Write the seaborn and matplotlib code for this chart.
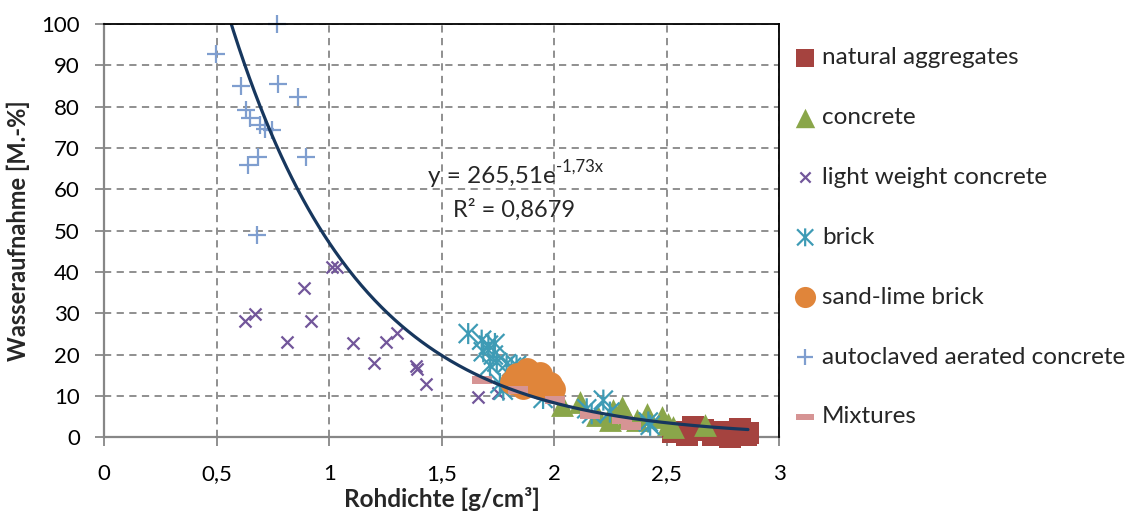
import numpy as np
import pandas as pd
import matplotlib
matplotlib.use("Agg")
import matplotlib.pyplot as plt
from matplotlib.path import Path
import seaborn as sns

# ---------------- data ----------------
nat_x = [2.530, 2.589, 2.663, 2.752, 2.826, 2.855, 2.781, 2.707, 2.619, 2.862]
nat_y = [1.3, 0.5, 1.7, 1.3, 2.1, 0.5, 0.1, 0.5, 2.5, 1.0]

con_x = [2.034, 2.115, 2.189, 2.264, 2.300, 2.368, 2.412, 2.478, 2.508, 2.530, 2.670, 2.248, 2.322]
con_y = [7.7, 8.5, 5.3, 6.5, 7.3, 4.1, 5.7, 4.9, 3.3, 2.5, 2.9, 4.1, 4.9]

lwc_x = [0.626, 0.670, 0.887, 0.917, 0.813, 1.011, 1.033, 1.104, 1.199, 1.252,
         1.300, 1.386, 1.392, 1.430, 1.663, 1.752]
lwc_y = [28.1, 29.8, 36.2, 28.1, 23.1, 41.2, 41.1, 22.7, 18.0, 23.1,
         25.3, 17.2, 16.6, 13.0, 9.8, 10.6]

brick_x = [1.618, 1.678, 1.708, 1.737, 1.685, 1.730, 1.745, 1.715, 1.789, 1.811,
           1.833, 1.759, 1.774, 1.951, 2.145, 2.219, 2.248, 2.167, 2.419, 2.427]
brick_y = [25.1, 23.5, 22.3, 22.7, 20.7, 19.9, 18.2, 17.4, 17.8, 17.0,
           17.4, 13.0, 11.4, 9.4, 6.9, 9.0, 6.1, 5.7, 3.7, 2.9]

slb_x = [1.833, 1.878, 1.937, 1.980, 1.863, 1.937, 1.996, 1.811]
slb_y = [15.0, 16.2, 15.4, 13.0, 12.2, 12.2, 11.8, 13.4]

aac_x = [0.766, 0.497, 0.608, 0.773, 0.862, 0.630, 0.648, 0.692, 0.714, 0.744,
         0.685, 0.640, 0.899, 0.680]
aac_y = [100.0, 92.7, 85.0, 85.4, 82.4, 79.3, 77.2, 75.5, 74.7, 74.3,
         67.9, 65.9, 67.9, 48.9]

mix_x = [1.678, 1.841, 2.003, 2.160, 2.300, 2.344]
mix_y = [13.8, 11.5, 9.1, 5.3, 4.1, 2.7]

fit_a = 265.51
fit_b = 1.73
fit_label_eq = "y = 265,51e"
fit_label_exp = "-1,73x"
fit_label_r2 = "R² = 0,8679"

x_ticks = [0, 0.5, 1, 1.5, 2, 2.5, 3]
x_ticklabels = ["0", "0,5", "1", "1,5", "2", "2,5", "3"]
y_ticks = [0, 10, 20, 30, 40, 50, 60, 70, 80, 90, 100]
y_ticklabels = [str(v) for v in y_ticks]

# ---------------- style ----------------
sns.set_theme(style="white")
plt.rcParams["font.family"] = ["Lato", "DejaVu Sans"]

W, H = 1133, 511
fig = plt.figure(figsize=(W / 100, H / 100), dpi=100)
ax = fig.add_axes([104.3 / W, 1 - 437.3 / H, (779 - 104.3) / W, (437.3 - 24) / H])

asterisk = Path([(0, -1), (0, 1), (-0.9, -0.9), (0.9, 0.9), (-0.9, 0.9), (0.9, -0.9)],
                [Path.MOVETO, Path.LINETO, Path.MOVETO, Path.LINETO, Path.MOVETO, Path.LINETO])
dash = Path([(-1, -0.35), (1, -0.35), (1, 0.35), (-1, 0.35), (-1, -0.35)],
            [Path.MOVETO, Path.LINETO, Path.LINETO, Path.LINETO, Path.CLOSEPOLY])

series = [
    ("natural aggregates", nat_x, nat_y, "s", 230, "#A5433F", dict(linewidth=0)),
    ("concrete", con_x, con_y, "^", 270, "#8AA64A", dict(linewidth=0)),
    ("light weight concrete", lwc_x, lwc_y, "x", 75, "#72569A", dict(linewidths=1.6)),
    ("brick", brick_x, brick_y, asterisk, 230, "#3E9BB5",
     dict(linewidths=1.6, facecolor="none", edgecolor="#3E9BB5")),
    ("sand-lime brick", slb_x, slb_y, "o", 320, "#E0853A", dict(linewidth=0)),
    ("autoclaved aerated concrete", aac_x, aac_y, "+", 180, "#7F9ECF", dict(linewidths=1.6)),
    ("Mixtures", mix_x, mix_y, dash, 210, "#D69494", dict(linewidth=0)),
]

for i, (lab, xs, ys, mk, sz, col, kw) in enumerate(series):
    df = pd.DataFrame({"x": xs, "y": ys})
    kw = dict(kw)
    if "edgecolor" not in kw:
        kw["color"] = col
    sns.scatterplot(data=df, x="x", y="y", marker=mk, s=sz, label=lab,
                    ax=ax, clip_on=False, zorder=3 + i * 0.1, **kw)

all_x = nat_x + con_x + lwc_x + brick_x + slb_x + aac_x + mix_x
xfit = np.linspace(min(all_x), max(all_x), 400)
fit_df = pd.DataFrame({"x": xfit, "y": fit_a * np.exp(-fit_b * xfit)})
sns.lineplot(data=fit_df, x="x", y="y", color="#17375E", linewidth=2.3, ax=ax,
             zorder=5, legend=False)

ax.set_xlim(0, 3)
ax.set_ylim(0, 100)
ax.set_xticks(x_ticks)
ax.set_xticklabels(x_ticklabels)
ax.set_yticks(y_ticks)
ax.set_yticklabels(y_ticklabels)

grid_c = "#878787"
ax.grid(True, color=grid_c, linestyle=(0, (4, 3)), linewidth=1.3, zorder=0)
ax.set_axisbelow(True)

for s in ["left", "bottom"]:
    ax.spines[s].set_color(grid_c)
    ax.spines[s].set_linewidth(1.6)
for s in ["top", "right"]:
    ax.spines[s].set_color("black")
    ax.spines[s].set_linewidth(1.3)
    ax.spines[s].set_zorder(6)

ax.tick_params(axis="both", which="both", direction="out", length=6.5, width=1.3,
               color=grid_c, labelsize=16, labelcolor="black")
ax.tick_params(axis="y", pad=11)
ax.tick_params(axis="x", pad=13)
ax.tick_params(left=True, bottom=True)

ax.set_xlabel("Rohdichte [g/cm³]", fontsize=17.5, fontweight="bold", labelpad=2)
ax.set_ylabel("Wasseraufnahme [M.-%]", fontsize=17, fontweight="bold", labelpad=8)

# trendline label
t1 = fig.text(428 / W, 1 - 183 / H, fit_label_eq, fontsize=17.5, ha="left", va="baseline")
ax.annotate(fit_label_exp, xy=(1.0, 0.6), xycoords=t1, fontsize=12,
            ha="left", va="bottom")
fig.text(453 / W, 1 - 217 / H, fit_label_r2, fontsize=17, ha="left", va="baseline")

handles, labels = ax.get_legend_handles_labels()
ax.get_legend().remove()
fig.legend(handles, labels, loc="upper left", bbox_to_anchor=(793 / W, 1 - 47 / H),
           frameon=False, fontsize=17.5, labelspacing=1.6, handletextpad=0.2,
           handlelength=1.0, borderaxespad=0, borderpad=0, markerscale=0.85)

fig.savefig("out.png", dpi=100)
